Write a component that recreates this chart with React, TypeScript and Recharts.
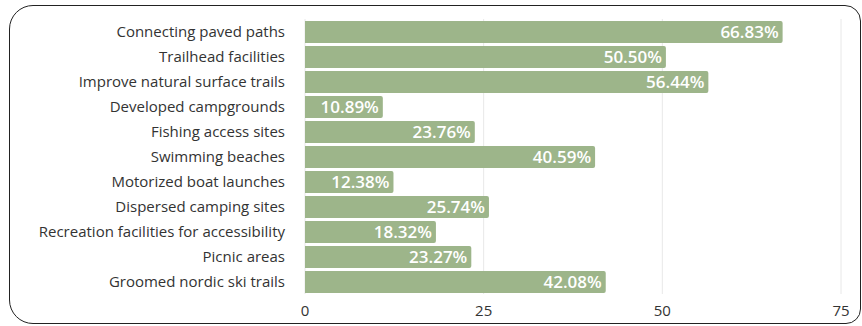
import React from "react";
import {
  BarChart,
  Bar,
  XAxis,
  YAxis,
  CartesianGrid,
  LabelList,
} from "recharts";

const categories = [
  "Connecting paved paths",
  "Trailhead facilities",
  "Improve natural surface trails",
  "Developed campgrounds",
  "Fishing access sites",
  "Swimming beaches",
  "Motorized boat launches",
  "Dispersed camping sites",
  "Recreation facilities for accessibility",
  "Picnic areas",
  "Groomed nordic ski trails",
];

const percents = [
  66.83, 50.5, 56.44, 10.89, 23.76, 40.59, 12.38, 25.74, 18.32, 23.27, 42.08,
];

const xTicks = [0, 25, 50, 75];

const data = categories.map((name, i) => ({ name, value: percents[i] }));

const FONT = "'Open Sans', sans-serif";

export default function App() {
  return (
    <div
      style={{
        position: "fixed",
        left: 0,
        top: 0,
        width: 862,
        height: 326,
        background: "#fff",
        fontFamily: FONT,
      }}
    >
      {/* rounded frame */}
      <div
        style={{
          position: "absolute",
          left: 9,
          top: 5,
          width: 852,
          height: 319,
          border: "1.5px solid #222",
          borderRadius: "24px 16px 15px 24px",
          boxSizing: "border-box",
        }}
      />
      <div style={{ position: "absolute", left: 0, top: 0 }}>
        <BarChart
          width={862}
          height={326}
          data={data}
          layout="vertical"
          margin={{ top: 19, right: 21, bottom: 12, left: 0 }}
        >
          <CartesianGrid
            horizontal={false}
            stroke="#e8e8e8"
            strokeWidth={1}
          />
          <XAxis
            type="number"
            domain={[0, 75]}
            ticks={xTicks}
            axisLine={false}
            tickLine={false}
            height={20}
            tick={{ fontSize: 15, fill: "#333", fontFamily: FONT }}
            tickMargin={5}
          />
          <YAxis
            type="category"
            dataKey="name"
            width={305}
            axisLine={false}
            tickLine={false}
            interval={0}
            tickMargin={14}
            tick={{ fontSize: 15, fill: "#333", fontFamily: FONT }}
          />
          <Bar
            dataKey="value"
            fill="#9db58a"
            barSize={22}
            radius={[0, 2, 2, 0]}
            isAnimationActive={false}
          >
            <LabelList
              dataKey="value"
              position="insideRight"
              offset={4}
              fill="#fff"
              fontSize={17}
              fontWeight={600}
              fontFamily={FONT}
              formatter={(v: number) => `${v.toFixed(2)}%`}
            />
          </Bar>
        </BarChart>
      </div>
    </div>
  );
}
